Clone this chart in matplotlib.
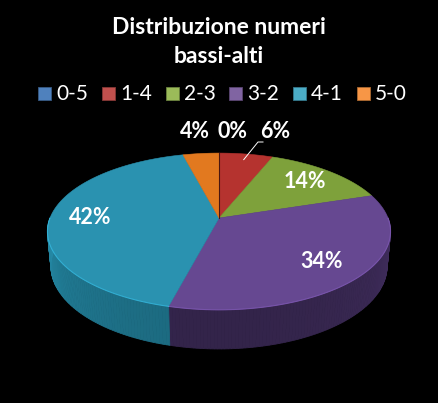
import numpy as np
import matplotlib

matplotlib.use("Agg")
import matplotlib.pyplot as plt
import matplotlib.colors as mcolors
from matplotlib.patches import Polygon, Rectangle

plt.rcParams["font.family"] = ["Lato", "DejaVu Sans"]

title = "Distribuzione numeri\nbassi-alti"
categories = ["0-5", "1-4", "2-3", "3-2", "4-1", "5-0"]
shares = [0, 6, 14, 34, 42, 4]
top_colors = ["#3F6FAE", "#B5332F", "#7EA13B", "#664891", "#2A92B0", "#E2791F"]
side_colors = ["#2A4C7A", "#7E2220", "#587229", "#33244A", "#1C6A80", "#A45514"]
legend_colors = ["#4F81BD", "#C0504D", "#9BBB59", "#8064A2", "#4BACC6", "#F79646"]

# projection of the tilted disc (pixel space)
CX, CY, S = 219.0, 218.0, 169.0
PHI = np.radians(26.75)
FOC = 5.2
THICK = 0.232


def project(theta, r=1.0, h=0.0):
    x = r * np.sin(theta)
    y = r * np.cos(theta)
    v = y * np.sin(PHI) + h * np.cos(PHI)
    w = y * np.cos(PHI) - h * np.sin(PHI)
    f = FOC / (FOC + w)
    return CX + S * x * f, CY - S * v * f


def shade(color, k):
    rgb = np.array(mcolors.to_rgb(color)) * k
    return tuple(np.clip(rgb, 0, 1))


fig = plt.figure(figsize=(4.38, 4.03), dpi=100, facecolor="black")
ax = fig.add_axes([0, 0, 1, 1])
ax.set_xlim(0, 438)
ax.set_ylim(403, 0)
ax.axis("off")
ax.set_facecolor("black")

total = float(sum(shares))
bounds = np.concatenate([[0], np.cumsum(shares)]) / total * 2 * np.pi

# --- sides (front half only) ---
for i in range(len(shares)):
    a0, a1 = max(bounds[i], np.pi / 2), min(bounds[i + 1], 3 * np.pi / 2)
    if a1 <= a0:
        continue
    n = max(2, int(np.degrees(a1 - a0)))
    ts = np.linspace(a0, a1, n + 1)
    for t0, t1 in zip(ts[:-1], ts[1:]):
        tm = 0.5 * (t0 + t1)
        k = 1 + 0.3 * (1 - abs(np.cos(tm)))
        c = shade(side_colors[i], k)
        pts = [project(t0), project(t1), project(t1, h=-THICK), project(t0, h=-THICK)]
        ax.add_patch(Polygon(pts, closed=True, fc=c, ec=c, lw=0.6, zorder=2))

# --- top faces ---
for i in range(len(shares)):
    a0, a1 = bounds[i], bounds[i + 1]
    if a1 - a0 <= 0:
        x1, y1 = project(a0)
        ax.plot([CX, x1], [CY, y1], color="#4a1510", lw=0.8, zorder=4)
        continue
    ts = np.linspace(a0, a1, max(3, int(np.degrees(a1 - a0)) + 1))
    pts = [(CX, CY)] + [project(t) for t in ts]
    ax.add_patch(Polygon(pts, closed=True, fc=top_colors[i], ec=top_colors[i],
                         lw=0.4, zorder=3))
    # soft highlight on the front rim
    f0, f1 = max(a0, np.pi / 2), min(a1, 3 * np.pi / 2)
    if f1 > f0:
        tt = np.linspace(f0, f1, 60)
        xy = np.array([project(t) for t in tt])
        ax.plot(xy[:, 0], xy[:, 1], color=shade(top_colors[i], 1.35), lw=0.8,
                alpha=0.6, zorder=4)

# --- data labels ---
lab_kw = dict(color="white", fontsize=15.5, fontweight="bold", ha="center",
              va="center", zorder=6)
for i, val in enumerate(shares):
    if val >= 10:
        mid = 0.5 * (bounds[i] + bounds[i + 1])
        lx, ly = project(mid, r=0.76)
        ax.text(lx, ly, f"{val}%", **lab_kw)

outside = {0: (232, 132), 1: (275, 132), 5: (195, 132)}
for i, (lx, ly) in outside.items():
    ax.text(lx, ly, f"{shares[i]}%", **lab_kw)

# leader line for the 1-4 label
mid = 0.5 * (bounds[1] + bounds[2])
ex, ey = project(mid, r=0.9)
ax.plot([263, 258, ex], [142, 142, ey], color="white", lw=0.7, zorder=5)

# --- title ---
ax.text(219, 42, title, color="white", fontsize=16.5, fontweight="bold",
        ha="center", va="center", linespacing=1.5)

# --- legend ---
lx0, step = 38, 63.8
for i, cat in enumerate(categories):
    x = lx0 + i * step
    ax.add_patch(Rectangle((x, 87), 13, 13, fc=legend_colors[i],
                           ec=shade(legend_colors[i], 0.7), lw=0.6))
    ax.text(x + 18, 93.5, cat, color="white", fontsize=15, ha="left", va="center")

fig.savefig("out.png", dpi=100, facecolor="black")
